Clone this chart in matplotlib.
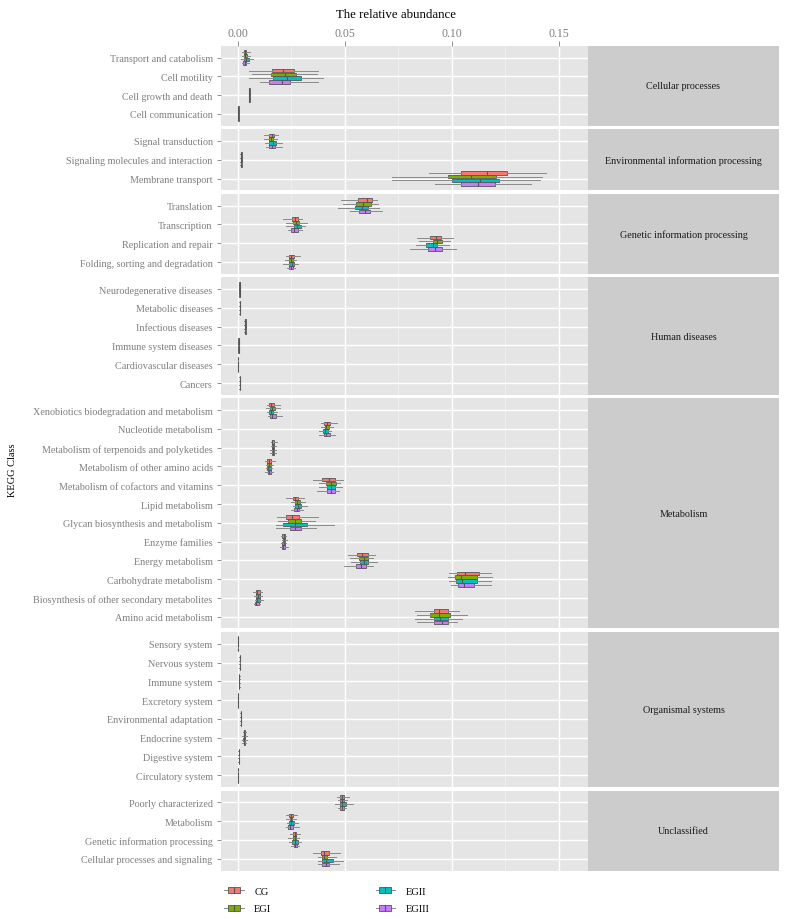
import numpy as np
import matplotlib
matplotlib.use('Agg')
import matplotlib.pyplot as plt
from matplotlib.legend_handler import HandlerBase
from matplotlib.patches import Rectangle, Patch
from matplotlib.lines import Line2D

plt.rcParams['font.family'] = ['Liberation Serif', 'DejaVu Serif']

# facets (top to bottom) and their categories in display order
panels = ['Cellular processes', 'Environmental information processing',
          'Genetic information processing', 'Human diseases', 'Metabolism',
          'Organismal systems', 'Unclassified']
panel_counts = [4, 3, 4, 6, 12, 8, 4]
categories = [
    'Transport and catabolism', 'Cell motility', 'Cell growth and death', 'Cell communication',
    'Signal transduction', 'Signaling molecules and interaction', 'Membrane transport',
    'Translation', 'Transcription', 'Replication and repair', 'Folding, sorting and degradation',
    'Neurodegenerative diseases', 'Metabolic diseases', 'Infectious diseases',
    'Immune system diseases', 'Cardiovascular diseases', 'Cancers',
    'Xenobiotics biodegradation and metabolism', 'Nucleotide metabolism',
    'Metabolism of terpenoids and polyketides', 'Metabolism of other amino acids',
    'Metabolism of cofactors and vitamins', 'Lipid metabolism',
    'Glycan biosynthesis and metabolism', 'Enzyme families', 'Energy metabolism',
    'Carbohydrate metabolism', 'Biosynthesis of other secondary metabolites',
    'Amino acid metabolism',
    'Sensory system', 'Nervous system', 'Immune system', 'Excretory system',
    'Environmental adaptation', 'Endocrine system', 'Digestive system', 'Circulatory system',
    'Poorly characterized', 'Metabolism', 'Genetic information processing',
    'Cellular processes and signaling',
]

groups = ['CG', 'EGI', 'EGII', 'EGIII']
colors = ['#F8766D', '#7CAE00', '#00BFC4', '#C77CFF']

# box stats per category: [whisker low, q1, median, q3, whisker high]
CG = [
    [0.0018, 0.0027, 0.0033, 0.0040, 0.0058],
    [0.0054, 0.0160, 0.0210, 0.0260, 0.0373],
    [0.0051, 0.0053, 0.0054, 0.0055, 0.0057],
    [0.0001, 0.0002, 0.0002, 0.0003, 0.0004],
    [0.0122, 0.0146, 0.0158, 0.0169, 0.0188],
    [0.0012, 0.0014, 0.0016, 0.0018, 0.0020],
    [0.0892, 0.1045, 0.1163, 0.1260, 0.1440],
    [0.0482, 0.0562, 0.0603, 0.0628, 0.0649],
    [0.0211, 0.0252, 0.0268, 0.0283, 0.0302],
    [0.0837, 0.0900, 0.0925, 0.0950, 0.1005],
    [0.0224, 0.0238, 0.0249, 0.0261, 0.0291],
    [0.0006, 0.0007, 0.0008, 0.0009, 0.0010],
    [0.0007, 0.0008, 0.0009, 0.0010, 0.0011],
    [0.0030, 0.0032, 0.0034, 0.0036, 0.0038],
    [0.0001, 0.0002, 0.0003, 0.0004, 0.0005],
    [0.0000, 0.0001, 0.0001, 0.0002, 0.0002],
    [0.0006, 0.0008, 0.0009, 0.0010, 0.0012],
    [0.0136, 0.0147, 0.0155, 0.0169, 0.0196],
    [0.0388, 0.0404, 0.0416, 0.0429, 0.0462],
    [0.0153, 0.0158, 0.0161, 0.0171, 0.0183],
    [0.0125, 0.0136, 0.0144, 0.0155, 0.0174],
    [0.0352, 0.0394, 0.0424, 0.0455, 0.0493],
    [0.0227, 0.0257, 0.0269, 0.0283, 0.0307],
    [0.0182, 0.0224, 0.0255, 0.0288, 0.0374],
    [0.0202, 0.0208, 0.0214, 0.0221, 0.0227],
    [0.0516, 0.0559, 0.0582, 0.0606, 0.0640],
    [0.0988, 0.1023, 0.1064, 0.1128, 0.1185],
    [0.0070, 0.0083, 0.0089, 0.0102, 0.0111],
    [0.0826, 0.0915, 0.0940, 0.0984, 0.1036],
    [0.0000, 0.0000, 0.0001, 0.0001, 0.0002],
    [0.0006, 0.0008, 0.0009, 0.0010, 0.0011],
    [0.0004, 0.0005, 0.0006, 0.0007, 0.0008],
    [0.0000, 0.0001, 0.0001, 0.0002, 0.0002],
    [0.0012, 0.0013, 0.0014, 0.0015, 0.0016],
    [0.0022, 0.0027, 0.0030, 0.0033, 0.0040],
    [0.0002, 0.0003, 0.0004, 0.0005, 0.0006],
    [0.0000, 0.0000, 0.0001, 0.0001, 0.0002],
    [0.0463, 0.0479, 0.0486, 0.0495, 0.0518],
    [0.0227, 0.0240, 0.0247, 0.0258, 0.0277],
    [0.0243, 0.0258, 0.0265, 0.0274, 0.0291],
    [0.0352, 0.0387, 0.0402, 0.0424, 0.0477],
]
EGI = [
    [0.0020, 0.0028, 0.0035, 0.0042, 0.0055],
    [0.0068, 0.0154, 0.0222, 0.0271, 0.0369],
    [0.0051, 0.0053, 0.0054, 0.0055, 0.0057],
    [0.0001, 0.0002, 0.0002, 0.0003, 0.0004],
    [0.0122, 0.0147, 0.0157, 0.0166, 0.0185],
    [0.0012, 0.0014, 0.0016, 0.0018, 0.0020],
    [0.0720, 0.0981, 0.1088, 0.1207, 0.1424],
    [0.0490, 0.0554, 0.0587, 0.0624, 0.0654],
    [0.0224, 0.0257, 0.0272, 0.0285, 0.0321],
    [0.0847, 0.0911, 0.0931, 0.0955, 0.0990],
    [0.0221, 0.0240, 0.0248, 0.0258, 0.0274],
    [0.0006, 0.0007, 0.0008, 0.0009, 0.0010],
    [0.0007, 0.0008, 0.0009, 0.0010, 0.0011],
    [0.0030, 0.0032, 0.0034, 0.0036, 0.0038],
    [0.0001, 0.0002, 0.0003, 0.0004, 0.0005],
    [0.0000, 0.0001, 0.0001, 0.0002, 0.0002],
    [0.0006, 0.0008, 0.0009, 0.0010, 0.0012],
    [0.0131, 0.0150, 0.0158, 0.0172, 0.0199],
    [0.0387, 0.0405, 0.0413, 0.0424, 0.0444],
    [0.0153, 0.0160, 0.0164, 0.0171, 0.0180],
    [0.0131, 0.0138, 0.0144, 0.0153, 0.0163],
    [0.0379, 0.0410, 0.0433, 0.0457, 0.0477],
    [0.0250, 0.0266, 0.0277, 0.0290, 0.0315],
    [0.0189, 0.0236, 0.0266, 0.0297, 0.0362],
    [0.0205, 0.0210, 0.0215, 0.0221, 0.0230],
    [0.0524, 0.0568, 0.0588, 0.0610, 0.0631],
    [0.0983, 0.1013, 0.1044, 0.1116, 0.1190],
    [0.0075, 0.0086, 0.0092, 0.0102, 0.0111],
    [0.0837, 0.0900, 0.0940, 0.0990, 0.1070],
    [0.0000, 0.0000, 0.0001, 0.0001, 0.0002],
    [0.0006, 0.0008, 0.0009, 0.0010, 0.0011],
    [0.0004, 0.0005, 0.0006, 0.0007, 0.0008],
    [0.0000, 0.0001, 0.0001, 0.0002, 0.0002],
    [0.0012, 0.0013, 0.0014, 0.0015, 0.0016],
    [0.0021, 0.0027, 0.0030, 0.0034, 0.0041],
    [0.0002, 0.0003, 0.0004, 0.0005, 0.0006],
    [0.0000, 0.0000, 0.0001, 0.0001, 0.0002],
    [0.0467, 0.0479, 0.0486, 0.0497, 0.0510],
    [0.0224, 0.0243, 0.0248, 0.0255, 0.0274],
    [0.0235, 0.0258, 0.0265, 0.0274, 0.0288],
    [0.0376, 0.0391, 0.0403, 0.0416, 0.0457],
]
EGII = [
    [0.0015, 0.0030, 0.0038, 0.0050, 0.0072],
    [0.0054, 0.0165, 0.0228, 0.0297, 0.0400],
    [0.0051, 0.0053, 0.0054, 0.0055, 0.0057],
    [0.0001, 0.0002, 0.0002, 0.0003, 0.0004],
    [0.0127, 0.0147, 0.0165, 0.0180, 0.0208],
    [0.0012, 0.0014, 0.0016, 0.0018, 0.0020],
    [0.0720, 0.1000, 0.1131, 0.1222, 0.1413],
    [0.0466, 0.0549, 0.0579, 0.0607, 0.0659],
    [0.0227, 0.0261, 0.0277, 0.0293, 0.0313],
    [0.0834, 0.0878, 0.0911, 0.0931, 0.0987],
    [0.0211, 0.0240, 0.0252, 0.0261, 0.0282],
    [0.0006, 0.0007, 0.0008, 0.0009, 0.0010],
    [0.0007, 0.0008, 0.0009, 0.0010, 0.0011],
    [0.0030, 0.0032, 0.0034, 0.0036, 0.0038],
    [0.0001, 0.0002, 0.0003, 0.0004, 0.0005],
    [0.0000, 0.0001, 0.0001, 0.0002, 0.0002],
    [0.0006, 0.0008, 0.0009, 0.0010, 0.0012],
    [0.0138, 0.0147, 0.0155, 0.0166, 0.0185],
    [0.0380, 0.0399, 0.0407, 0.0421, 0.0435],
    [0.0150, 0.0158, 0.0163, 0.0171, 0.0177],
    [0.0130, 0.0135, 0.0142, 0.0153, 0.0160],
    [0.0379, 0.0416, 0.0437, 0.0452, 0.0485],
    [0.0258, 0.0269, 0.0280, 0.0293, 0.0321],
    [0.0177, 0.0210, 0.0266, 0.0321, 0.0449],
    [0.0200, 0.0208, 0.0214, 0.0221, 0.0227],
    [0.0527, 0.0571, 0.0588, 0.0607, 0.0650],
    [0.0988, 0.1019, 0.1050, 0.1119, 0.1185],
    [0.0078, 0.0084, 0.0091, 0.0103, 0.0117],
    [0.0826, 0.0915, 0.0947, 0.0983, 0.1050],
    [0.0000, 0.0000, 0.0001, 0.0001, 0.0002],
    [0.0006, 0.0008, 0.0009, 0.0010, 0.0011],
    [0.0004, 0.0005, 0.0006, 0.0007, 0.0008],
    [0.0000, 0.0001, 0.0001, 0.0002, 0.0002],
    [0.0012, 0.0013, 0.0014, 0.0015, 0.0016],
    [0.0020, 0.0026, 0.0029, 0.0032, 0.0042],
    [0.0002, 0.0003, 0.0004, 0.0005, 0.0006],
    [0.0000, 0.0000, 0.0001, 0.0001, 0.0002],
    [0.0455, 0.0476, 0.0487, 0.0504, 0.0537],
    [0.0230, 0.0240, 0.0249, 0.0260, 0.0282],
    [0.0239, 0.0254, 0.0266, 0.0280, 0.0293],
    [0.0376, 0.0393, 0.0412, 0.0443, 0.0490],
]
EGIII = [
    [0.0017, 0.0026, 0.0032, 0.0040, 0.0050],
    [0.0104, 0.0147, 0.0204, 0.0244, 0.0376],
    [0.0051, 0.0053, 0.0054, 0.0055, 0.0057],
    [0.0001, 0.0002, 0.0002, 0.0003, 0.0004],
    [0.0130, 0.0146, 0.0158, 0.0172, 0.0205],
    [0.0012, 0.0014, 0.0016, 0.0018, 0.0020],
    [0.0920, 0.1045, 0.1125, 0.1202, 0.1370],
    [0.0524, 0.0568, 0.0593, 0.0618, 0.0676],
    [0.0232, 0.0250, 0.0263, 0.0279, 0.0300],
    [0.0803, 0.0887, 0.0923, 0.0956, 0.1020],
    [0.0230, 0.0240, 0.0249, 0.0258, 0.0266],
    [0.0006, 0.0007, 0.0008, 0.0009, 0.0010],
    [0.0007, 0.0008, 0.0009, 0.0010, 0.0011],
    [0.0030, 0.0032, 0.0034, 0.0036, 0.0038],
    [0.0001, 0.0002, 0.0003, 0.0004, 0.0005],
    [0.0000, 0.0001, 0.0001, 0.0002, 0.0002],
    [0.0006, 0.0008, 0.0009, 0.0010, 0.0012],
    [0.0139, 0.0152, 0.0160, 0.0177, 0.0205],
    [0.0377, 0.0402, 0.0413, 0.0429, 0.0454],
    [0.0152, 0.0158, 0.0163, 0.0171, 0.0177],
    [0.0128, 0.0139, 0.0147, 0.0156, 0.0163],
    [0.0371, 0.0416, 0.0433, 0.0452, 0.0474],
    [0.0247, 0.0264, 0.0275, 0.0288, 0.0305],
    [0.0177, 0.0243, 0.0269, 0.0293, 0.0365],
    [0.0197, 0.0206, 0.0212, 0.0221, 0.0232],
    [0.0498, 0.0551, 0.0574, 0.0598, 0.0631],
    [0.0995, 0.1028, 0.1056, 0.1103, 0.1182],
    [0.0075, 0.0080, 0.0086, 0.0097, 0.0102],
    [0.0837, 0.0919, 0.0955, 0.0984, 0.1025],
    [0.0000, 0.0000, 0.0001, 0.0001, 0.0002],
    [0.0006, 0.0008, 0.0009, 0.0010, 0.0011],
    [0.0004, 0.0005, 0.0006, 0.0007, 0.0008],
    [0.0000, 0.0001, 0.0001, 0.0002, 0.0002],
    [0.0012, 0.0013, 0.0014, 0.0015, 0.0016],
    [0.0021, 0.0027, 0.0030, 0.0033, 0.0039],
    [0.0002, 0.0003, 0.0004, 0.0005, 0.0006],
    [0.0000, 0.0000, 0.0001, 0.0001, 0.0002],
    [0.0470, 0.0479, 0.0485, 0.0494, 0.0505],
    [0.0224, 0.0233, 0.0245, 0.0257, 0.0285],
    [0.0249, 0.0262, 0.0268, 0.0275, 0.0284],
    [0.0376, 0.0394, 0.0410, 0.0427, 0.0473],
]
group_data = [CG, EGI, EGII, EGIII]

x_ticks = [0.00, 0.05, 0.10, 0.15]
x_minor = [0.025, 0.075, 0.125]
x_lim = (-0.0079, 0.1637)

W, H = 787, 920
fig = plt.figure(figsize=(W / 100, H / 100), dpi=100)

# layout in pixels
left, right = 221, 588
strip_l, strip_r = 588, 779
top, bottom, gap = 46.7, 871.5, 3.5
pad = 0.63
units = [n - 1 + 2 * pad for n in panel_counts]
unit_px = (bottom - top - gap * (len(panels) - 1)) / sum(units)

gray_txt = '#7F7F7F'
offsets = [-0.3, -0.1, 0.1, 0.3]
box_h = 0.19

y_px = top
start = 0
for i, (pname, n) in enumerate(zip(panels, panel_counts)):
    h = units[i] * unit_px
    ax = fig.add_axes([left / W, 1 - (y_px + h) / H, (right - left) / W, h / H])
    ax.set_facecolor('#E5E5E5')
    for s in ax.spines.values():
        s.set_visible(False)
    ax.set_xlim(*x_lim)
    ax.set_ylim(n - 1 + pad, -pad)
    ax.set_xticks(x_ticks)
    ax.set_xticks(x_minor, minor=True)
    ax.set_yticks(np.arange(n))
    ax.set_yticklabels(categories[start:start + n], fontsize=7.3, color=gray_txt)
    ax.grid(which='major', color='white', lw=1.0)
    ax.grid(which='minor', axis='x', color='#F2F2F2', lw=0.5)
    ax.set_axisbelow(True)
    ax.tick_params(axis='y', length=3, width=0.6, color=gray_txt, pad=3)
    ax.tick_params(axis='x', which='minor', length=0)
    if i == 0:
        ax.xaxis.set_ticks_position('top')
        ax.tick_params(axis='x', which='major', length=3.5, width=0.6, color=gray_txt,
                       labelsize=8.5, labelcolor=gray_txt, pad=1.5)
        ax.set_xticklabels(['0.00', '0.05', '0.10', '0.15'])
    else:
        ax.tick_params(axis='x', which='major', length=0, labelbottom=False)

    for data, col, off in zip(group_data, colors, offsets):
        stats = [dict(whislo=r[0], q1=r[1], med=r[2], q3=r[3], whishi=r[4])
                 for r in data[start:start + n]]
        ax.bxp(stats, positions=np.arange(n) + off, widths=box_h,
               orientation='horizontal', patch_artist=True, showfliers=False,
               showcaps=False, manage_ticks=False,
               boxprops=dict(facecolor=col, edgecolor='#555555', lw=0.6),
               whiskerprops=dict(color='#8a8a8a', lw=0.7),
               medianprops=dict(color='#555555', lw=0.8))

    sax = fig.add_axes([strip_l / W, 1 - (y_px + h) / H, (strip_r - strip_l) / W, h / H])
    sax.set_facecolor('#CCCCCC')
    sax.set_xticks([])
    sax.set_yticks([])
    for s in sax.spines.values():
        s.set_visible(False)
    sax.text(0.5, 0.5, pname, ha='center', va='center', fontsize=7.3,
             color='#1a1a1a', transform=sax.transAxes)

    y_px += h + gap
    start += n

fig.text(396 / W, 1 - 15 / H, 'The relative abundance', ha='center', va='center',
         fontsize=9.3)
fig.text(13 / W, 1 - 470 / H, 'KEGG Class', rotation=90, ha='center', va='center',
         fontsize=7.5)


class BoxHandler(HandlerBase):
    def create_artists(self, legend, orig_handle, xdescent, ydescent, width, height,
                       fontsize, trans):
        fc = orig_handle.get_facecolor()
        yc = height / 2 - ydescent
        wl = Line2D([-xdescent, width - xdescent], [yc, yc], color='#8a8a8a', lw=0.7,
                    transform=trans)
        bw = width * 0.6
        bx = -xdescent + (width - bw) / 2
        rect = Rectangle((bx, yc - height * 0.35), bw, height * 0.7, facecolor=fc,
                         edgecolor='#555555', lw=0.6, transform=trans)
        med = Line2D([bx + bw / 2] * 2, [yc - height * 0.35, yc + height * 0.35],
                     color='#555555', lw=0.8, transform=trans)
        return [wl, rect, med]


handles = [Patch(facecolor=c) for c in colors]
fig.legend(handles, groups, handler_map={Patch: BoxHandler()}, ncol=2,
           loc='upper left', bbox_to_anchor=(224 / W, 1 - 887 / H), frameon=False,
           fontsize=7.5, handlelength=1.9, handleheight=0.9, handletextpad=1.0,
           columnspacing=10.0, labelspacing=0.7, borderaxespad=0, borderpad=0)

fig.savefig('out.png', dpi=100)
